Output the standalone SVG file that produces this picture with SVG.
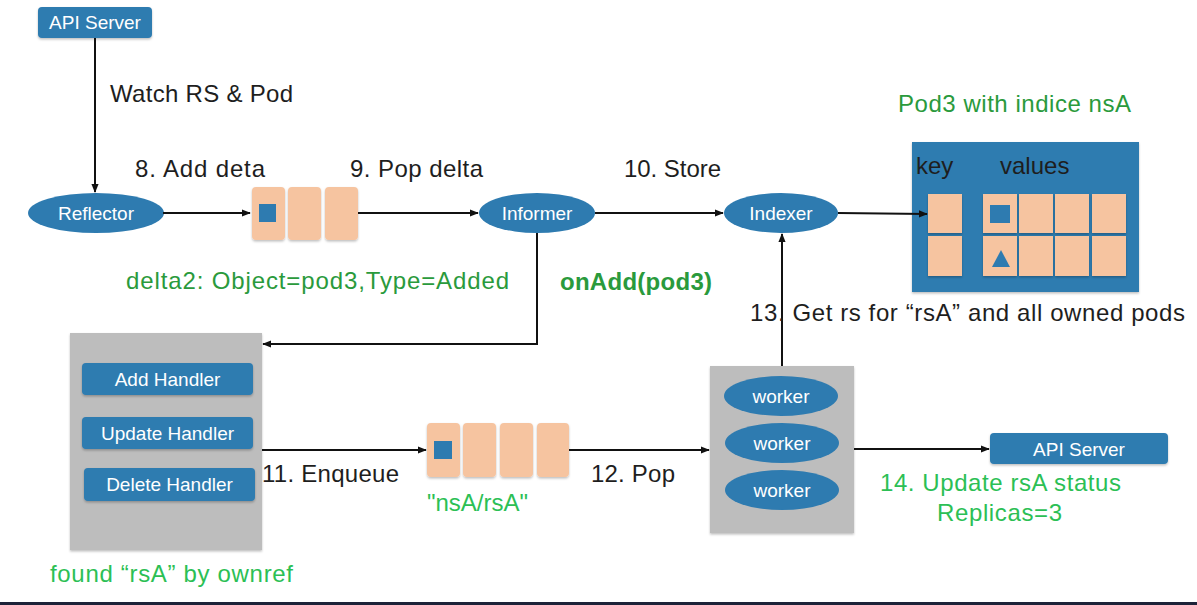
<svg xmlns="http://www.w3.org/2000/svg" width="1197" height="605" viewBox="0 0 1197 605">
<defs>
<style>
.bg{fill:#ffffff}
.blue{fill:#2e7bb0}
.peach{fill:#f6c4a0}
.gray{fill:#bdbdbd}
.nt{font-family:"Liberation Sans",Arial,Helvetica,sans-serif;font-size:19px;fill:#ffffff;text-anchor:middle;dominant-baseline:central}
.lbl{font-family:"Liberation Sans",Arial,Helvetica,sans-serif;font-size:24px;fill:#1e1e1e}
.grn{font-family:"Liberation Sans",Arial,Helvetica,sans-serif;font-size:24px;fill:#2a9a3c}
.grn2{font-family:"Liberation Sans",Arial,Helvetica,sans-serif;font-size:24px;fill:#2cbf55}
.ln{fill:none;stroke:#111111;stroke-width:2}
</style>
<marker id="ah" viewBox="0 0 10 10" refX="9" refY="5" markerWidth="9" markerHeight="9" markerUnits="userSpaceOnUse" orient="auto">
<path d="M0,1 L10,5 L0,9 Z" fill="#111111"/>
</marker>
<filter id="sh" x="-10%" y="-10%" width="120%" height="130%">
<feDropShadow dx="0" dy="1.5" stdDeviation="1" flood-color="#000000" flood-opacity="0.25"/>
</filter>
</defs>
<rect class="bg" x="0" y="0" width="1197" height="605"/>

<g id="api-server-top">
<rect class="blue" x="38" y="7" width="114" height="31" rx="4" filter="url(#sh)"/>
<text class="nt" x="95" y="22.5">API Server</text>
</g>

<g id="reflector">
<ellipse class="blue" cx="96" cy="213" rx="68" ry="20"/>
<text class="nt" x="96" y="213">Reflector</text>
</g>

<g id="delta-queue">
<rect class="peach" x="252" y="187" width="33" height="53" rx="4" filter="url(#sh)"/>
<rect class="peach" x="288" y="187" width="33" height="53" rx="4" filter="url(#sh)"/>
<rect class="peach" x="325" y="187" width="33" height="53" rx="4" filter="url(#sh)"/>
<rect class="blue" x="259" y="204" width="17" height="18"/>
</g>

<g id="informer">
<ellipse class="blue" cx="537" cy="213" rx="58" ry="20"/>
<text class="nt" x="537" y="213">Informer</text>
</g>

<g id="indexer">
<ellipse class="blue" cx="781" cy="213" rx="57" ry="20"/>
<text class="nt" x="781" y="213">Indexer</text>
</g>

<g id="index-store">
<rect class="blue" x="912" y="142" width="227" height="150" filter="url(#sh)"/>
<text class="lbl" x="916" y="174" font-size="31" fill="#111111">key</text>
<text class="lbl" x="1000" y="174" font-size="31" fill="#111111">values</text>
<rect class="peach" x="928" y="194" width="34" height="39" filter="url(#sh)"/>
<rect class="peach" x="928" y="236" width="34" height="40" filter="url(#sh)"/>
<rect class="peach" x="983" y="194" width="34" height="39" filter="url(#sh)"/>
<rect class="peach" x="1019" y="194" width="34" height="39" filter="url(#sh)"/>
<rect class="peach" x="1055" y="194" width="34" height="39" filter="url(#sh)"/>
<rect class="peach" x="1092" y="194" width="34" height="39" filter="url(#sh)"/>
<rect class="peach" x="983" y="236" width="34" height="40" filter="url(#sh)"/>
<rect class="peach" x="1019" y="236" width="34" height="40" filter="url(#sh)"/>
<rect class="peach" x="1055" y="236" width="34" height="40" filter="url(#sh)"/>
<rect class="peach" x="1092" y="236" width="34" height="40" filter="url(#sh)"/>
<rect class="blue" x="990" y="205" width="20" height="18"/>
<polygon class="blue" points="1001,250 1010,267 992,267"/>
</g>

<g id="handlers">
<rect class="gray" x="70" y="333" width="192" height="217" filter="url(#sh)"/>
<rect class="blue" x="82" y="363" width="171" height="32" rx="4" filter="url(#sh)"/>
<text class="nt" x="167.5" y="379" font-size="20">Add Handler</text>
<rect class="blue" x="82" y="417" width="171" height="32" rx="4" filter="url(#sh)"/>
<text class="nt" x="167.5" y="433" font-size="20">Update Handler</text>
<rect class="blue" x="84" y="468" width="171" height="33" rx="4" filter="url(#sh)"/>
<text class="nt" x="169.5" y="484.5" font-size="20">Delete Handler</text>
</g>

<g id="work-queue">
<rect class="peach" x="427" y="423" width="33" height="54" rx="4" filter="url(#sh)"/>
<rect class="peach" x="463" y="423" width="33" height="54" rx="4" filter="url(#sh)"/>
<rect class="peach" x="500" y="423" width="33" height="54" rx="4" filter="url(#sh)"/>
<rect class="peach" x="537" y="423" width="32" height="54" rx="4" filter="url(#sh)"/>
<rect class="blue" x="434" y="441" width="18" height="18"/>
</g>

<g id="workers">
<rect class="gray" x="710" y="366" width="144" height="167" filter="url(#sh)"/>
<ellipse class="blue" cx="781" cy="396" rx="57" ry="20"/>
<text class="nt" x="781" y="396">worker</text>
<ellipse class="blue" cx="782" cy="443" rx="57" ry="20"/>
<text class="nt" x="782" y="443">worker</text>
<ellipse class="blue" cx="782" cy="490" rx="57" ry="20"/>
<text class="nt" x="782" y="490">worker</text>
</g>

<g id="api-server-bottom">
<rect class="blue" x="990" y="433" width="178" height="31" rx="4" filter="url(#sh)"/>
<text class="nt" x="1079" y="449">API Server</text>
</g>

<g id="connectors">
<line class="ln" x1="95" y1="38" x2="95" y2="192" marker-end="url(#ah)"/>
<line class="ln" x1="163" y1="213" x2="250" y2="213" stroke-width="1.5" marker-end="url(#ah)"/>
<line class="ln" x1="358" y1="213" x2="478" y2="213" stroke-width="2.5" marker-end="url(#ah)"/>
<line class="ln" x1="595" y1="213" x2="723" y2="213" marker-end="url(#ah)"/>
<line class="ln" x1="838" y1="213" x2="927" y2="214" stroke="#333333" stroke-width="1.5" marker-end="url(#ah)"/>
<polyline class="ln" points="537,233 537,344 263,344" stroke-width="2.5" marker-end="url(#ah)"/>
<line class="ln" x1="262" y1="450" x2="426" y2="450" marker-end="url(#ah)"/>
<line class="ln" x1="569" y1="450" x2="709" y2="450" marker-end="url(#ah)"/>
<line class="ln" x1="854" y1="449" x2="989" y2="449" marker-end="url(#ah)"/>
<line class="ln" x1="782" y1="366" x2="782" y2="234" stroke-width="2.5" marker-end="url(#ah)"/>
</g>

<g id="labels">
<text class="lbl" x="110" y="102" textLength="183">Watch RS &amp; Pod</text>
<text class="lbl" x="135" y="177" textLength="130">8. Add deta</text>
<text class="lbl" x="350" y="177" textLength="133">9. Pop delta</text>
<text class="lbl" x="624" y="177" textLength="97">10. Store</text>
<text class="grn" x="126" y="289" fill="#2b8f3d" textLength="383">delta2: Object=pod3,Type=Added</text>
<text class="grn" x="560" y="290" font-size="21" font-weight="bold" fill="#1f9a3a" textLength="152">onAdd(pod3)</text>
<text class="grn" x="898" y="112" fill="#27973f" textLength="233">Pod3 with indice nsA</text>
<text class="lbl" x="750" y="321" textLength="435">13. Get rs for “rsA” and all owned pods</text>
<text class="lbl" x="262" y="482" textLength="137">11. Enqueue</text>
<text class="grn2" x="427" y="511" font-size="22" textLength="101">"nsA/rsA"</text>
<text class="lbl" x="591" y="482" textLength="84">12. Pop</text>
<text class="grn2" x="880" y="491" textLength="241">14. Update rsA status</text>
<text class="grn2" x="937" y="521" textLength="125">Replicas=3</text>
<text class="grn2" x="50" y="582" fill="#25b84b" textLength="243">found “rsA” by ownref</text>
</g>

<rect x="0" y="602" width="1197" height="3" fill="#1c2238"/>
</svg>
